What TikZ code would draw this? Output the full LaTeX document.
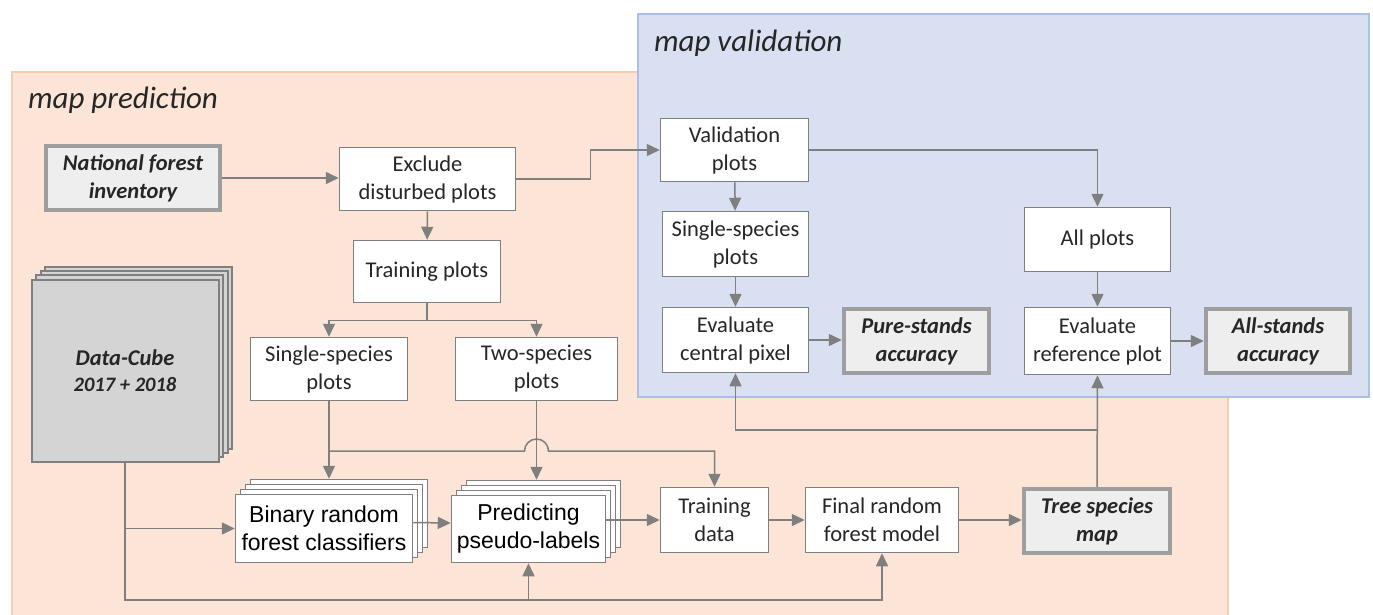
\documentclass[tikz,border=0pt]{standalone}
\usepackage{fontspec}
\setmainfont{Carlito}
\newfontfamily\arialfont{Liberation Sans}
\usetikzlibrary{positioning,arrows.meta,shadows}
\definecolor{predfill}{HTML}{FCE4D6}
\definecolor{predline}{HTML}{F8CBAD}
\definecolor{valfill}{HTML}{D9E0F2}
\definecolor{valline}{HTML}{AABFE6}
\definecolor{linegray}{HTML}{7F7F7F}
\definecolor{keyline}{HTML}{9E9E9E}
\definecolor{keyfill}{HTML}{EEEEEE}
\definecolor{cubefill}{HTML}{D4D4D4}
\definecolor{txt}{HTML}{262626}

\begin{document}
\begin{tikzpicture}[x=1pt,y=-1pt,>={Triangle[length=13pt,width=12pt]},line width=1.5pt]
	\tikzstyle{box}=[rectangle,draw=linegray,fill=white,line width=1.5pt,align=center,text=txt,inner sep=2pt,font=\fontsize{22.5}{28}\selectfont]
	\tikzstyle{keybox}=[box,draw=keyline,fill=keyfill,line width=4.5pt,font=\fontsize{22.5}{28}\selectfont\bfseries\itshape]
	\tikzstyle{stackbox}=[box,text=black,font=\arialfont\fontsize{23}{28}\selectfont,
		copy shadow={shadow xshift=15pt,shadow yshift=15pt},
		copy shadow={shadow xshift=10pt,shadow yshift=10pt},
		copy shadow={shadow xshift=5pt,shadow yshift=5pt}]
	\tikzstyle{cubebox}=[box,fill=cubefill,line width=2pt,
		copy shadow={shadow xshift=13.5pt,shadow yshift=13pt},
		copy shadow={shadow xshift=9pt,shadow yshift=8.7pt},
		copy shadow={shadow xshift=4.5pt,shadow yshift=4.3pt}]
	\tikzstyle{title}=[anchor=west,text=txt,font=\fontsize{31}{36}\selectfont\itshape]
	\useasboundingbox (0,0) rectangle (1373,614);
	% the two regions
	\filldraw[fill=predfill,draw=predline,line width=2pt] (12,72) rectangle (1228,630);
	\filldraw[fill=valfill,draw=valline,line width=2pt] (638,14) rectangle (1369,397);
	\node[title] (predtitle) at (24,100) {map prediction};
	\node[title] (valtitle) at (650,43) {map validation};
		% map prediction
		\node[keybox, minimum width=174pt, minimum height=64pt] (nfi) at (133,178) {National forest\\inventory};
		\node[box, minimum width=176pt, minimum height=63pt] (excl) at (427.5,179) {Exclude\\disturbed plots};
		\node[box, minimum width=147pt, minimum height=62pt] (trp) at (427,271.5) {Training plots};
		\node[box, minimum width=157pt, minimum height=63pt] (ssp) at (329,369) {Single-species\\plots};
		\node[box, minimum width=162pt, minimum height=63pt] (tsp) at (536.5,369) {Two-species\\plots};
		\node[cubebox, minimum width=187pt, minimum height=182pt] (cube) at (125,370.5) {\bfseries\itshape Data-Cube\\[-2pt]\fontsize{20.5}{26}\selectfont\bfseries\itshape 2017 + 2018};
		\node[stackbox, minimum width=177pt, minimum height=68pt] (bin) at (324,528.5) {Binary random\\forest classifiers};
		\node[stackbox, minimum width=154pt, minimum height=67pt] (pred) at (528.5,529) {Predicting\\pseudo-labels};
		\node[box, minimum width=108pt, minimum height=65pt] (trd) at (714.5,520) {Training\\data};
		\node[box, minimum width=153pt, minimum height=65pt] (frf) at (882,520) {Final random\\forest model};
		\node[keybox, minimum width=146pt, minimum height=64pt] (tsm) at (1097,521) {Tree species\\map};
		% map validation
		\node[box, minimum width=148pt, minimum height=63pt] (vp) at (734.5,150) {Validation\\plots};
		\node[box, minimum width=146pt, minimum height=65pt] (vss) at (735.5,244) {Single-species\\plots};
		\node[box, minimum width=146pt, minimum height=65pt] (ecp) at (735.5,340) {Evaluate\\central pixel};
		\node[keybox, minimum width=145pt, minimum height=64pt] (psa) at (916.5,341) {Pure-stands\\accuracy};
		\node[box, minimum width=146pt, minimum height=64pt] (ap) at (1097.5,239.5) {All plots};
		\node[box, minimum width=146pt, minimum height=67pt] (erp) at (1097.5,341) {Evaluate\\reference plot};
		\node[keybox, minimum width=144pt, minimum height=64pt] (asa) at (1278,341) {All-stands\\accuracy};
	% helper points
	\coordinate (bintop) at ([yshift=15pt]bin.north);
	\coordinate (predtop) at ([yshift=15pt]pred.north);
	\coordinate (hopy) at (0,451);
	\coordinate (boty) at (0,600);
	\coordinate (mapy) at (0,430);
	\begin{scope}[draw=linegray,fill=linegray]
			\draw[->] (nfi.east) -- (nfi.east -| excl.west);
			\draw[->] (excl.east) -- ++(74,0) |- (vp.west);
			\draw[->] (excl) -- (trp);
			\draw (trp.south) -- ++(0,17) coordinate (split);
			\draw[->] (split) -| (ssp.north);
			\draw[->] (split) -| (tsp.north);
			\draw[->] (ssp.south) -- (ssp.south |- bintop);
			\draw[->] (tsp.south) -- (tsp.south |- predtop);
			\draw[->] (ssp.south |- hopy) -- ([xshift=-12pt]tsp.south |- hopy) arc[start angle=180,end angle=360,radius=12] -| (trd.north);
			\draw[->] (cube.south) -- (cube.south |- boty) -| (frf.south);
			\draw[->] (pred.south |- boty) -- (pred.south);
			\draw[->] (cube.south |- bin.west) -- (bin.west);
			\draw[->] ([yshift=6pt]bin.east) -- ([yshift=6pt]pred.west);
			\draw[->] (pred.east |- trd.west) -- (trd.west);
			\draw[->] (trd) -- (frf);
			\draw[->] (frf.east) -- (frf.east -| tsm.west);
			\draw[->] (tsm.north) -- (erp.south);
			\draw[->] (tsm.north |- mapy) -| (ecp.south);
			\draw[->] (vp) -- (vss);
			\draw[->] (vss) -- (ecp);
			\draw[->] (ecp.east) -- (ecp.east -| psa.west);
			\draw[->] (vp.east) -| (ap.north);
			\draw[->] (ap) -- (erp);
			\draw[->] (erp) -- (asa);
	\end{scope}
\end{tikzpicture}
\end{document}
